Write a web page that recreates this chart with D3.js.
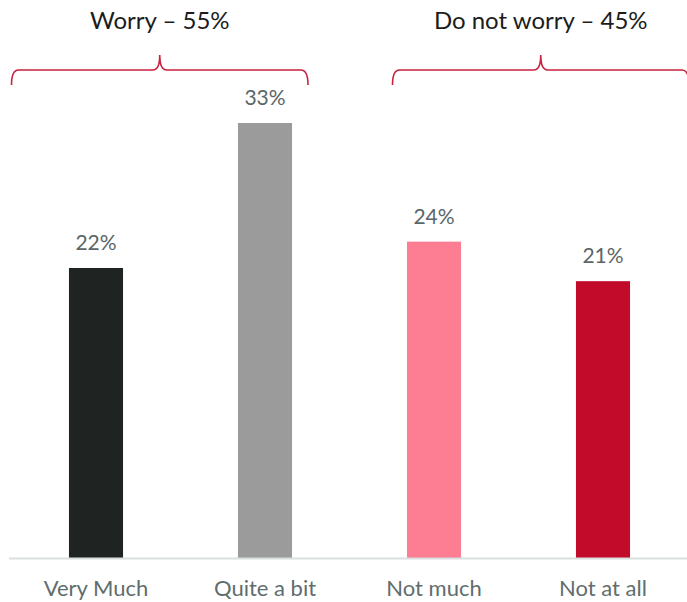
<!DOCTYPE html>
<html>
<head>
<meta charset="utf-8">
<script src="https://cdn.jsdelivr.net/npm/d3@7"></script>
<style>
  html, body { margin: 0; padding: 0; background: #fff; }
  svg { display: block; font-family: Lato, "Open Sans", sans-serif; }
</style>
</head>
<body>
<svg id="chart" width="687" height="602"></svg>
<script>
// Responses, in percent
const categories = ["Very Much", "Quite a bit", "Not much", "Not at all"];
const values = [22, 33, 24, 21];
const barColors = ["#1f2322", "#9b9b9b", "#fd7d93", "#c20a2a"];

// Grouped headers over the bars
const groupLabels = ["Worry – 55%", "Do not worry – 45%"];
const groupMembers = [["Very Much", "Quite a bit"], ["Not much", "Not at all"]];

const W = 687, H = 602;
const svg = d3.select("#chart");

const x = d3.scaleBand()
  .domain(categories)
  .range([11.5, 687.5])
  .paddingInner(0.68)
  .paddingOuter(0.34);

const baseY = 558;
const y = d3.scaleLinear().domain([0, 33]).range([baseY, 123]);

// bars
svg.append("g").selectAll("rect")
  .data(categories)
  .join("rect")
  .attr("x", d => x(d))
  .attr("width", x.bandwidth())
  .attr("y", (d, i) => y(values[i]))
  .attr("height", (d, i) => baseY - y(values[i]))
  .attr("fill", (d, i) => barColors[i]);

// value labels
svg.append("g").selectAll("text")
  .data(categories)
  .join("text")
  .attr("x", d => x(d) + x.bandwidth() / 2)
  .attr("y", (d, i) => y(values[i]) - 18)
  .attr("text-anchor", "middle")
  .attr("font-size", 21)
  .attr("fill", "#5a6667")
  .text((d, i) => values[i] + "%");

// category axis
const axis = d3.axisBottom(x).tickSize(0).tickPadding(0);
const gx = svg.append("g").attr("transform", `translate(0,${baseY})`).call(axis);
gx.select(".domain").attr("d", `M9,0.5H687`).attr("stroke", "#d9dfdf").attr("stroke-width", 2);
gx.selectAll(".tick text")
  .attr("y", 38)
  .attr("dy", 0)
  .attr("font-size", 22)
  .attr("font-family", "Lato, 'Open Sans', sans-serif")
  .attr("fill", "#5f6d6d");

// braces with headers
const braces = [
  { left: -84.5, right: 43 },
  { left: -41.5, right: 86 }
];
const braceY = 70, braceDrop = 15, cuspH = 15, r = 7;
groupMembers.forEach((members, gi) => {
  const c0 = x(members[0]) + x.bandwidth() / 2;
  const c1 = x(members[members.length - 1]) + x.bandwidth() / 2;
  const x0 = c0 + braces[gi].left;
  const x1 = c1 + braces[gi].right;
  const xm = (x0 + x1) / 2;
  const p = d3.path();
  p.moveTo(x0, braceY + braceDrop);
  p.quadraticCurveTo(x0, braceY, x0 + r, braceY);
  p.lineTo(xm - r, braceY);
  p.quadraticCurveTo(xm, braceY, xm, braceY - cuspH);
  p.quadraticCurveTo(xm, braceY, xm + r, braceY);
  p.lineTo(x1 - r, braceY);
  p.quadraticCurveTo(x1, braceY, x1, braceY + braceDrop);
  svg.append("path")
    .attr("d", p.toString())
    .attr("fill", "none")
    .attr("stroke", "#c8203d")
    .attr("stroke-width", 1.6);
  svg.append("text")
    .attr("x", xm)
    .attr("y", 29)
    .attr("text-anchor", "middle")
    .attr("font-size", 24)
    .attr("fill", "#1c1c1c")
    .text(groupLabels[gi]);
});
</script>
</body>
</html>
